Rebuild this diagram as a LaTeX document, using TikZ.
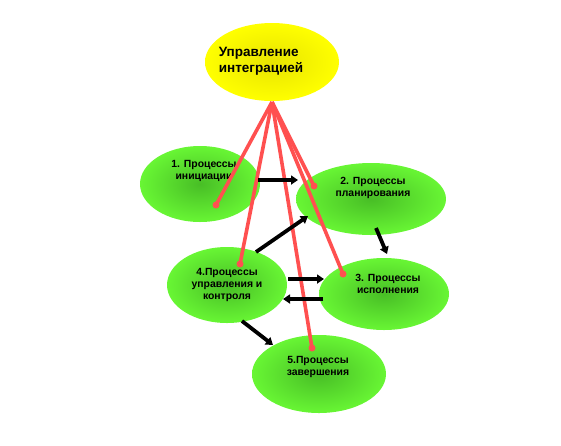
\documentclass[tikz,border=0pt]{standalone}
\usepackage{fontspec}
\setmainfont{Liberation Sans}
\usetikzlibrary{arrows.meta,shapes.geometric}
\definecolor{grin}{RGB}{72,190,38}
\definecolor{grout}{RGB}{104,246,52}
\definecolor{yin}{RGB}{232,228,0}
\definecolor{yout}{RGB}{255,255,0}
\definecolor{linkred}{RGB}{255,80,80}
\tikzset{
  proc/.style={ellipse, inner color=grin, outer color=grout, inner sep=0pt},
  head/.style={ellipse, inner color=yin, outer color=yout, inner sep=0pt},
  ptxt/.style={font=\fontsize{10.4}{11.8}\selectfont\bfseries, align=center},
  htxt/.style={font=\fontsize{13.5}{16}\selectfont\bfseries, align=left},
  link/.style={linkred, line width=3.6pt},
  ldot/.style={circle, fill=linkred, inner sep=0pt, minimum size=7pt},
  flow/.style={-{Triangle[length=7pt,width=9pt]}, black, line width=3.8pt},
}
\begin{document}
\begin{tikzpicture}[x=1pt,y=-1pt]
    \useasboundingbox (0,0) rectangle (561,445);
    % process ellipses
    \node[head, minimum width=134pt, minimum height=78pt] (ctl) at (272,62) {};
    \node[htxt] (ctltxt) at (261,61) {Управление\\интеграцией};
    \node[proc, minimum width=120pt, minimum height=76pt] (ini) at (200,184) {};
    \node[proc, minimum width=150pt, minimum height=72pt] (pln) at (371,199) {};
    \node[proc, minimum width=120pt, minimum height=76pt] (mon) at (227,285) {};
    \node[proc, minimum width=130pt, minimum height=72pt] (exe) at (384,294) {};
    \node[proc, minimum width=134pt, minimum height=78pt] (cls) at (319,374) {};
    \node[ptxt] (initxt) at (204,171) {1. Процессы\\инициации};
    \node[ptxt] (plntxt) at (373,188) {2. Процессы\\планирования};
    \node[ptxt] (montxt) at (227,285) {4.Процессы\\управления и\\контроля};
    \node[ptxt] (exetxt) at (388,284) {3. Процессы\\исполнения};
    \node[ptxt] (clstxt) at (318,367) {5.Процессы\\завершения};
    % red links from the top
    \coordinate (apex) at (272,102);
    \node[ldot] (d1) at (216,205) {};
    \node[ldot] (d2) at (314,186) {};
    \node[ldot] (d4) at (240,264) {};
    \node[ldot] (d3) at (343,274) {};
    \node[ldot] (d5) at (312,348) {};
    \foreach \d in {d1,d2,d4,d3,d5}
      \draw[link] (apex) -- (\d.center);
    % black arrows
    \coordinate (a1) at (258,180); \coordinate (b1) at (298,180);
    \coordinate (a2) at (256,252); \coordinate (b2) at (308,216);
    \coordinate (a3) at (376,228); \coordinate (b3) at (387,254);
    \coordinate (a4) at (288,279); \coordinate (b4) at (324,279);
    \coordinate (a5) at (323,299); \coordinate (b5) at (283,299);
    \coordinate (a6) at (242,321); \coordinate (b6) at (273,345);
    \foreach \i in {1,...,6}
      \draw[flow] (a\i) -- (b\i);
  \end{tikzpicture}
\end{document}
